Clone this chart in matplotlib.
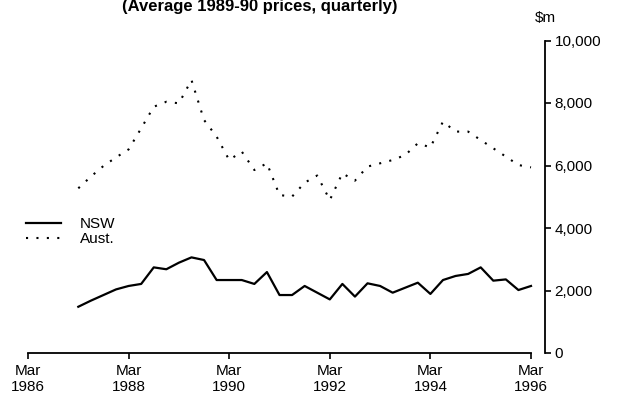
import numpy as np
import matplotlib.pyplot as plt

# quarters counted from Mar 1986 (0) to Mar 1996 (40)
quarters = np.arange(4, 41)
nsw = [1480, 1675, 1855, 2035, 2145, 2210, 2740, 2680, 2890, 3060,
       2975, 2335, 2335, 2335, 2210, 2590, 1855, 1855, 2145, 1930,
       1715, 2210, 1805, 2230, 2145, 1930, 2090, 2250, 1890, 2335,
       2465, 2530, 2740, 2315, 2355, 2015, 2145]
aust = [5270, 5645, 5985, 6260, 6515, 7190, 7880, 8040, 7990, 8735,
        7455, 6925, 6175, 6445, 5855, 6070, 5055, 5005, 5450, 5680,
        4895, 5750, 5515, 5965, 6070, 6175, 6335, 6710, 6580, 7405,
        7085, 7085, 6815, 6550, 6285, 6015, 5940]
tick_q = [0, 8, 16, 24, 32, 40]
tick_labels = ['Mar\n1986', 'Mar\n1988', 'Mar\n1990', 'Mar\n1992', 'Mar\n1994', 'Mar\n1996']
y_ticks = [0, 2000, 4000, 6000, 8000, 10000]

plt.rcParams['font.family'] = ['Liberation Sans', 'DejaVu Sans']
fig = plt.figure(figsize=(6.21, 4.07), dpi=100)
ax = fig.add_axes([28 / 621, (407 - 353) / 407, 517 / 621, 312.5 / 407])

ax.plot(quarters, nsw, color='black', lw=1.6, label='NSW')
ax.plot(quarters, aust, color='black', lw=1.5, linestyle=(0, (1, 4)), label='Aust.')

ax.set_xlim(0, 517 / 12.575)
ax.set_ylim(0, 10000)
ax.spines['top'].set_visible(False)
ax.spines['left'].set_visible(False)
ax.spines['bottom'].set_bounds(0, 40)
ax.spines['bottom'].set_linewidth(1.3)
ax.spines['right'].set_linewidth(1.3)
ax.yaxis.tick_right()
ax.set_xticks(tick_q)
ax.set_xticklabels(tick_labels, fontsize=11, linespacing=1.15)
ax.set_yticks(y_ticks)
ax.set_yticklabels([f'{v:,}' for v in y_ticks], fontsize=11)
ax.tick_params(axis='both', direction='out', length=4, width=1.2, pad=3)
ax.tick_params(axis='x', pad=4)

fig.text(545 / 621, (407 - 18) / 407, '$m', fontsize=11, ha='center', va='center')
fig.text(260 / 621, (407 - 7) / 407, '(Average 1989-90 prices, quarterly)',
         fontsize=12, fontweight='bold', ha='center', va='center')

ax.legend(loc='upper left', bbox_to_anchor=(-8 / 517, 0.455), frameon=False, fontsize=11,
          handlelength=2.3, handletextpad=1.2, labelspacing=0.1, borderaxespad=0)

fig.savefig('out.png', dpi=100)
